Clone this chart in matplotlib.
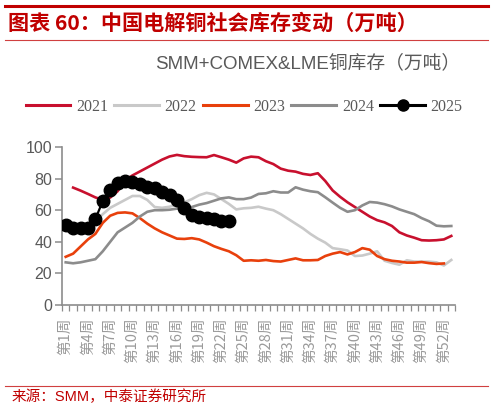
import numpy as np
import matplotlib
matplotlib.use('Agg')
import matplotlib.pyplot as plt
from matplotlib.lines import Line2D
from matplotlib.ticker import FixedLocator

# 周次
weeks = list(range(1, 54))
tick_weeks = list(range(1, 53, 3))
tick_labels = [f'第{w}周' for w in tick_weeks]

# 各年库存（万吨），按周读取
inv_2021 = [None, 74.3, 72.4, 70.3, 68.1, 66.5, 68, 72, 79, 82,
            84.5, 87, 89.5, 92, 94, 95, 94.2, 93.8, 93.6, 93.5,
            94.9, 93.5, 92, 90.1, 92.8, 93.9, 93.5, 91, 89.2, 86.3,
            85, 84.4, 83, 82.3, 83.4, 78.5, 72.5, 68.5, 65, 62,
            59, 56, 53.7, 52.3, 50, 46, 44, 42.6, 41, 40.8,
            41, 41.5, 43.7]
inv_2022 = [49, 49, 50, 51, 53, 57.5, 61.5, 64, 66.5, 69,
            69, 66.5, 62, 61.5, 62.2, 63.5, 65, 67, 69.5, 71,
            70, 67, 64, 60.5, 61.2, 61.5, 62.2, 61, 60, 57.5,
            54.5, 51.5, 48.5, 45, 42, 39.5, 36, 35.3, 34.5, 31,
            31.3, 32.5, 34, 28, 26.6, 25.5, 28.3, 27.5, 27.4, 27.4,
            27, 25, 28.5]
inv_2023 = [30.5, 32.5, 37, 41.5, 45, 52, 56.5, 58.3, 58.6, 58,
            55, 51.5, 48.5, 46, 44, 42, 41.8, 42.3, 41.5, 39.5,
            37.2, 35.5, 34, 31.5, 28, 28.3, 28, 28.5, 27.8, 27.5,
            28.5, 29.5, 28.3, 28.3, 28.5, 31, 32.5, 33.5, 32, 33.5,
            36, 35, 31, 29, 28, 27.5, 26.8, 26.8, 27.2, 26.5,
            26, 26.3, None]
inv_2024 = [27, 26.4, 27, 28, 29, 34, 40, 46, 49, 52,
            56, 59, 60, 60, 60.3, 61, 61.7, 62, 63.5, 64.5,
            66, 67.5, 68.1, 67, 67, 68, 70.3, 70.7, 72, 71.2,
            71.2, 74.5, 73, 72, 71.4, 68.2, 64.8, 61.5, 59, 60,
            63, 65.2, 64.8, 63.8, 62.4, 60.5, 59, 57.5, 55, 53,
            50.2, 49.8, 50]
inv_2025 = [50.6, 49, 48.7, 49, 54.4, 65.8, 72.8, 77, 78.7, 78,
            76.4, 74.9, 73.8, 71.7, 69.6, 66.5, 61.2, 57, 55.5, 54.9,
            54.2, 53.2, 53.4]

series = [
    ('2021', inv_2021, '#C8102E'),
    ('2022', inv_2022, '#C9C9C9'),
    ('2023', inv_2023, '#E8400C'),
    ('2024', inv_2024, '#8C8C8C'),
]

red = '#C00000'
grey_txt = '#595959'
axis_col = '#8C8C8C'
cjk = ['Noto Sans CJK SC', 'DejaVu Sans']
latin_cjk = ['Liberation Sans', 'Noto Sans CJK SC']

fig = plt.figure(figsize=(4.93, 4.09), dpi=100)
ax = fig.add_axes([62 / 493, 1 - 305 / 409, 393 / 493, 158 / 409])

def to_arr(vals):
    return np.array([np.nan if v is None else v for v in vals], dtype=float)

for name, vals, col in series:
    ax.plot(weeks[:len(vals)], to_arr(vals), color=col, lw=1.9,
            solid_joinstyle='round', label=name)
ax.plot(weeks[:len(inv_2025)], inv_2025, color='black', lw=1.6,
        marker='o', markersize=9, label='2025', zorder=5)

ax.set_xlim(0.5, 53.5)
ax.set_ylim(0, 100)
for s in ['top', 'right']:
    ax.spines[s].set_visible(False)
for s in ['left', 'bottom']:
    ax.spines[s].set_color(axis_col)
    ax.spines[s].set_linewidth(1.2)

ax.set_yticks(range(0, 101, 20))
ax.tick_params(axis='y', direction='out', length=5, width=1.1, color=axis_col,
               labelsize=11.5, labelcolor=grey_txt, pad=2)
for lab in ax.get_yticklabels():
    lab.set_family('Liberation Sans')

ax.set_xticks(tick_weeks)
ax.set_xticklabels(tick_labels, rotation=90, family=cjk, fontsize=10.5,
                   color='#9A9A9A')
ax.tick_params(axis='x', length=0, pad=9)
ax.xaxis.set_minor_locator(FixedLocator(np.arange(0.5, 54, 1)))
ax.tick_params(axis='x', which='minor', direction='out', length=4,
               width=0.9, color=axis_col)

# 图例
handles = [Line2D([], [], color=c, lw=2.2) for _, _, c in series]
handles.append(Line2D([], [], color='black', lw=2.2, marker='o',
                      markersize=8))
leg = fig.legend(handles, ['2021', '2022', '2023', '2024', '2025'],
                 loc='center', bbox_to_anchor=(244 / 493, 1 - 107 / 409),
                 ncol=5, frameon=False, handlelength=2.8, handletextpad=0.35,
                 columnspacing=0.4, prop={'family': 'Liberation Serif',
                                          'size': 11.5})
for t in leg.get_texts():
    t.set_color(grey_txt)

# 标题与装饰线
fig.add_artist(Line2D([5 / 493, 488 / 493], [1 - 6 / 409, 1 - 6 / 409],
                      color=red, lw=2.2))
fig.add_artist(Line2D([5 / 493, 488 / 493], [1 - 40 / 409, 1 - 40 / 409],
                      color='#D04040', lw=0.8))
fig.add_artist(Line2D([5 / 493, 488 / 493], [1 - 386 / 409, 1 - 386 / 409],
                      color='#D04040', lw=0.8))
fig.text(8 / 493, 1 - 23 / 409, '图表 60：中国电解铜社会库存变动（万吨）',
         color=red, family=cjk, fontsize=15.2, fontweight='bold',
         va='center', ha='left')
fig.text(460 / 493, 1 - 63 / 409, 'SMM+COMEX&LME铜库存（万吨）',
         color=grey_txt, family=latin_cjk, fontsize=13.5,
         va='center', ha='right')
fig.text(12 / 493, 1 - 397 / 409, '来源：SMM，中泰证券研究所',
         color=red, family=latin_cjk, fontsize=10.5,
         va='center', ha='left')

fig.savefig('out.png', dpi=100)
